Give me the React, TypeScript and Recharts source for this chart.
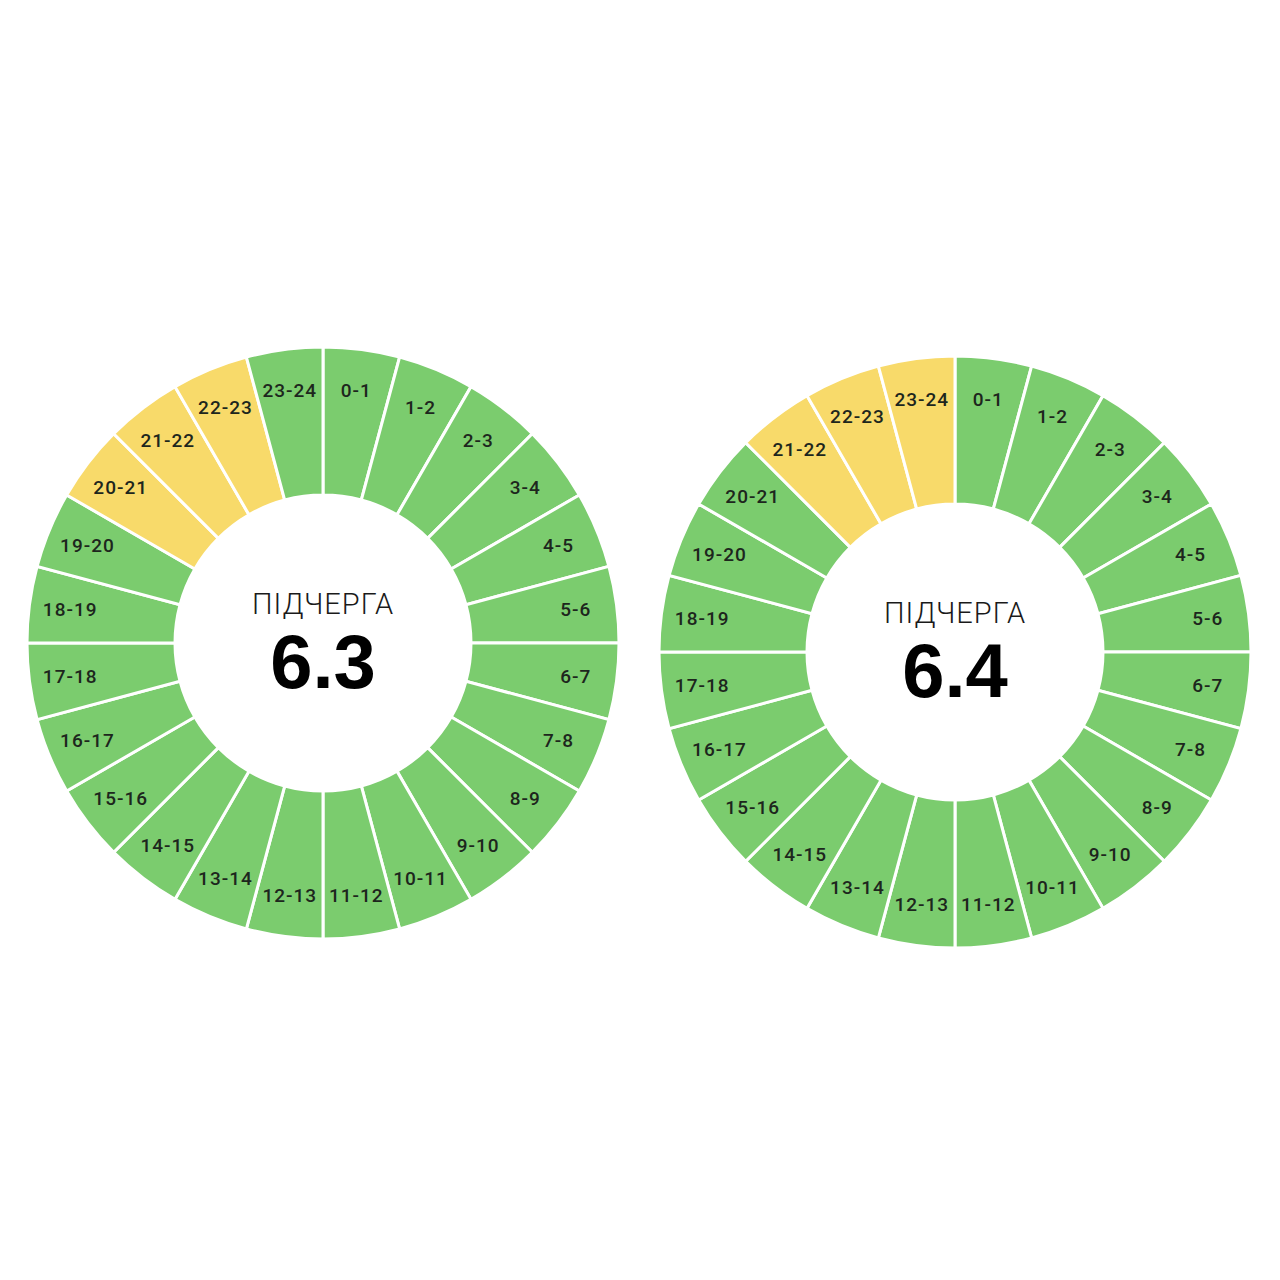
import { PieChart, Pie, Cell } from 'recharts';

const HOURS = [
  '0-1', '1-2', '2-3', '3-4', '4-5', '5-6', '6-7', '7-8', '8-9', '9-10', '10-11', '11-12',
  '12-13', '13-14', '14-15', '15-16', '16-17', '17-18', '18-19', '19-20', '20-21', '21-22', '22-23', '23-24',
];

// 0 = power on (green), 1 = possible outage (yellow)
const QUEUE_63 = [0, 0, 0, 0, 0, 0, 0, 0, 0, 0, 0, 0, 0, 0, 0, 0, 0, 0, 0, 0, 1, 1, 1, 0];
const QUEUE_64 = [0, 0, 0, 0, 0, 0, 0, 0, 0, 0, 0, 0, 0, 0, 0, 0, 0, 0, 0, 0, 0, 1, 1, 1];

const QUEUES = [
  { name: '6.3', status: QUEUE_63, cx: 323, cy: 643 },
  { name: '6.4', status: QUEUE_64, cx: 955, cy: 652 },
];

const STATUS_COLORS = ['#7bcc6e', '#f8da6a'];
const RAD = Math.PI / 180;

const renderLabel = (props: any) => {
  const { cx, cy, midAngle, index } = props;
  const r = 255;
  const x = cx + r * Math.cos(-midAngle * RAD);
  const y = cy + r * Math.sin(-midAngle * RAD);
  return (
    <text
      x={x}
      y={y}
      textAnchor="middle"
      dominantBaseline="central"
      fill="#1d261d"
      fontSize={19}
      fontWeight={500}
      fontFamily="Roboto, sans-serif"
      letterSpacing={1}
    >
      {HOURS[index]}
    </text>
  );
};

export default function App() {
  return (
    <div style={{ position: 'absolute', left: 0, top: 0, width: 1280, height: 1280, background: '#fff' }}>
      <PieChart width={1280} height={1280} margin={{ top: 0, right: 0, bottom: 0, left: 0 }}>
        {QUEUES.map((q) => (
          <Pie
            key={q.name}
            data={HOURS.map((h) => ({ name: h, value: 1 }))}
            dataKey="value"
            cx={q.cx}
            cy={q.cy}
            innerRadius={148}
            outerRadius={296}
            startAngle={90}
            endAngle={-270}
            stroke="#ffffff"
            strokeWidth={3}
            label={renderLabel}
            labelLine={false}
            isAnimationActive={false}
          >
            {q.status.map((s, i) => (
              <Cell key={i} fill={STATUS_COLORS[s]} />
            ))}
          </Pie>
        ))}
        {QUEUES.map((q) => (
          <g key={'c' + q.name}>
            <text
              x={q.cx}
              y={q.cy - 29}
              textAnchor="middle"
              fill="#1a1a1a"
              fontSize={29}
              fontWeight={300}
              fontFamily="Roboto, sans-serif"
              letterSpacing={1}
            >
              ПІДЧЕРГА
            </text>
            <text
              x={q.cx}
              y={q.cy + 45}
              textAnchor="middle"
              fill="#000"
              fontSize={76}
              fontWeight={700}
              fontFamily="'Liberation Sans', Arial, sans-serif"
            >
              {q.name}
            </text>
          </g>
        ))}
      </PieChart>
    </div>
  );
}
